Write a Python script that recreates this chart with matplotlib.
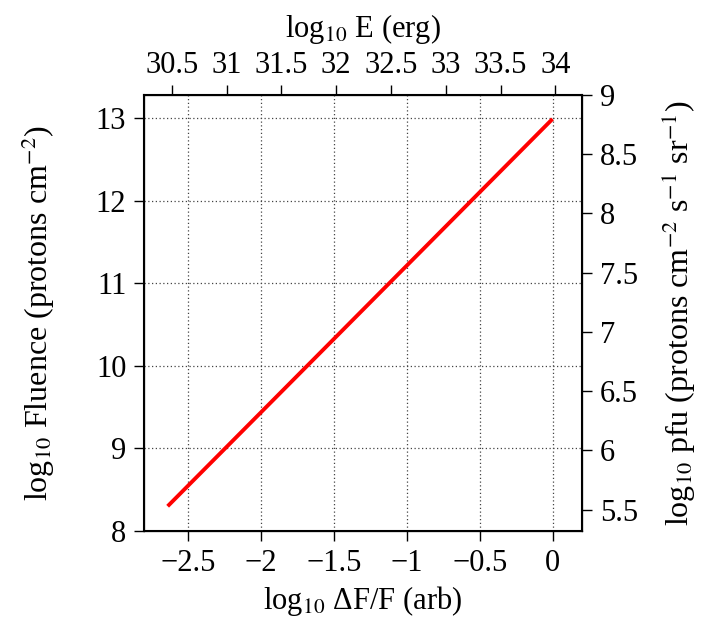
import matplotlib.pyplot as plt
import numpy as np

plt.rcParams['font.family'] = ['Liberation Serif', 'DejaVu Serif']
plt.rcParams['mathtext.fontset'] = 'stix'

# data
dff = np.array([-2.64, 0.0])          # log10 dF/F (arb)
fluence = np.array([8.30, 12.99])     # log10 Fluence

xlim = (-2.8, 0.2)
ylim = (8.0, 13.28)
elim = (30.25, 34.24)                 # top axis, log10 E (erg)
pfulim = (5.32, 9.0)                  # right axis, log10 pfu

xticks = [-2.5, -2, -1.5, -1, -0.5, 0]
yticks = [8, 9, 10, 11, 12, 13]
eticks = [30.5, 31, 31.5, 32, 32.5, 33, 33.5, 34]
pfuticks = [5.5, 6, 6.5, 7, 7.5, 8, 8.5, 9]

fs = 22
lfs = 22
fig = plt.figure(figsize=(7.05, 6.2), dpi=100)
ax = fig.add_axes([0.2047, 0.1435, 0.6204, 0.7033])

ax.plot(dff, fluence, color='red', lw=2.8, solid_capstyle='butt')
ax.set_xlim(xlim)
ax.set_ylim(ylim)
ax.set_xticks(xticks)
ax.set_xticklabels(['\u22122.5', '\u22122', '\u22121.5', '\u22121', '\u22120.5', '0'])
ax.set_yticks(yticks)
ax.grid(True, ls=(0, (1, 2)), color='#444444', lw=0.9)
ax.tick_params(direction='out', length=7, width=1, labelsize=fs, pad=6)
ax.set_xlabel('log$_{10}$ \u0394F/F (arb)', fontsize=lfs, labelpad=4)
ax.set_ylabel('log$_{10}$ Fluence (protons cm$^{\u22122}$)', fontsize=23, labelpad=28)
for s in ax.spines.values():
    s.set_linewidth(1.5)

top = ax.twiny()
top.set_xlim(elim)
top.set_xticks(eticks)
top.set_xticklabels([f'{t:g}' for t in eticks])
top.tick_params(direction='out', length=7, width=1, labelsize=fs, pad=4)
top.set_xlabel('log$_{10}$ E (erg)', fontsize=lfs, labelpad=10)

right = ax.twinx()
right.set_ylim(pfulim)
right.set_yticks(pfuticks)
right.set_yticklabels([f'{t:g}' for t in pfuticks])
right.tick_params(direction='out', length=7, width=1, labelsize=fs, pad=6)
right.set_ylabel('log$_{10}$ pfu (protons cm$^{\u22122}$ s$^{\u22121}$ sr$^{\u22121}$)',
                 fontsize=23, labelpad=16)

fig.savefig('out.png', dpi=100)
